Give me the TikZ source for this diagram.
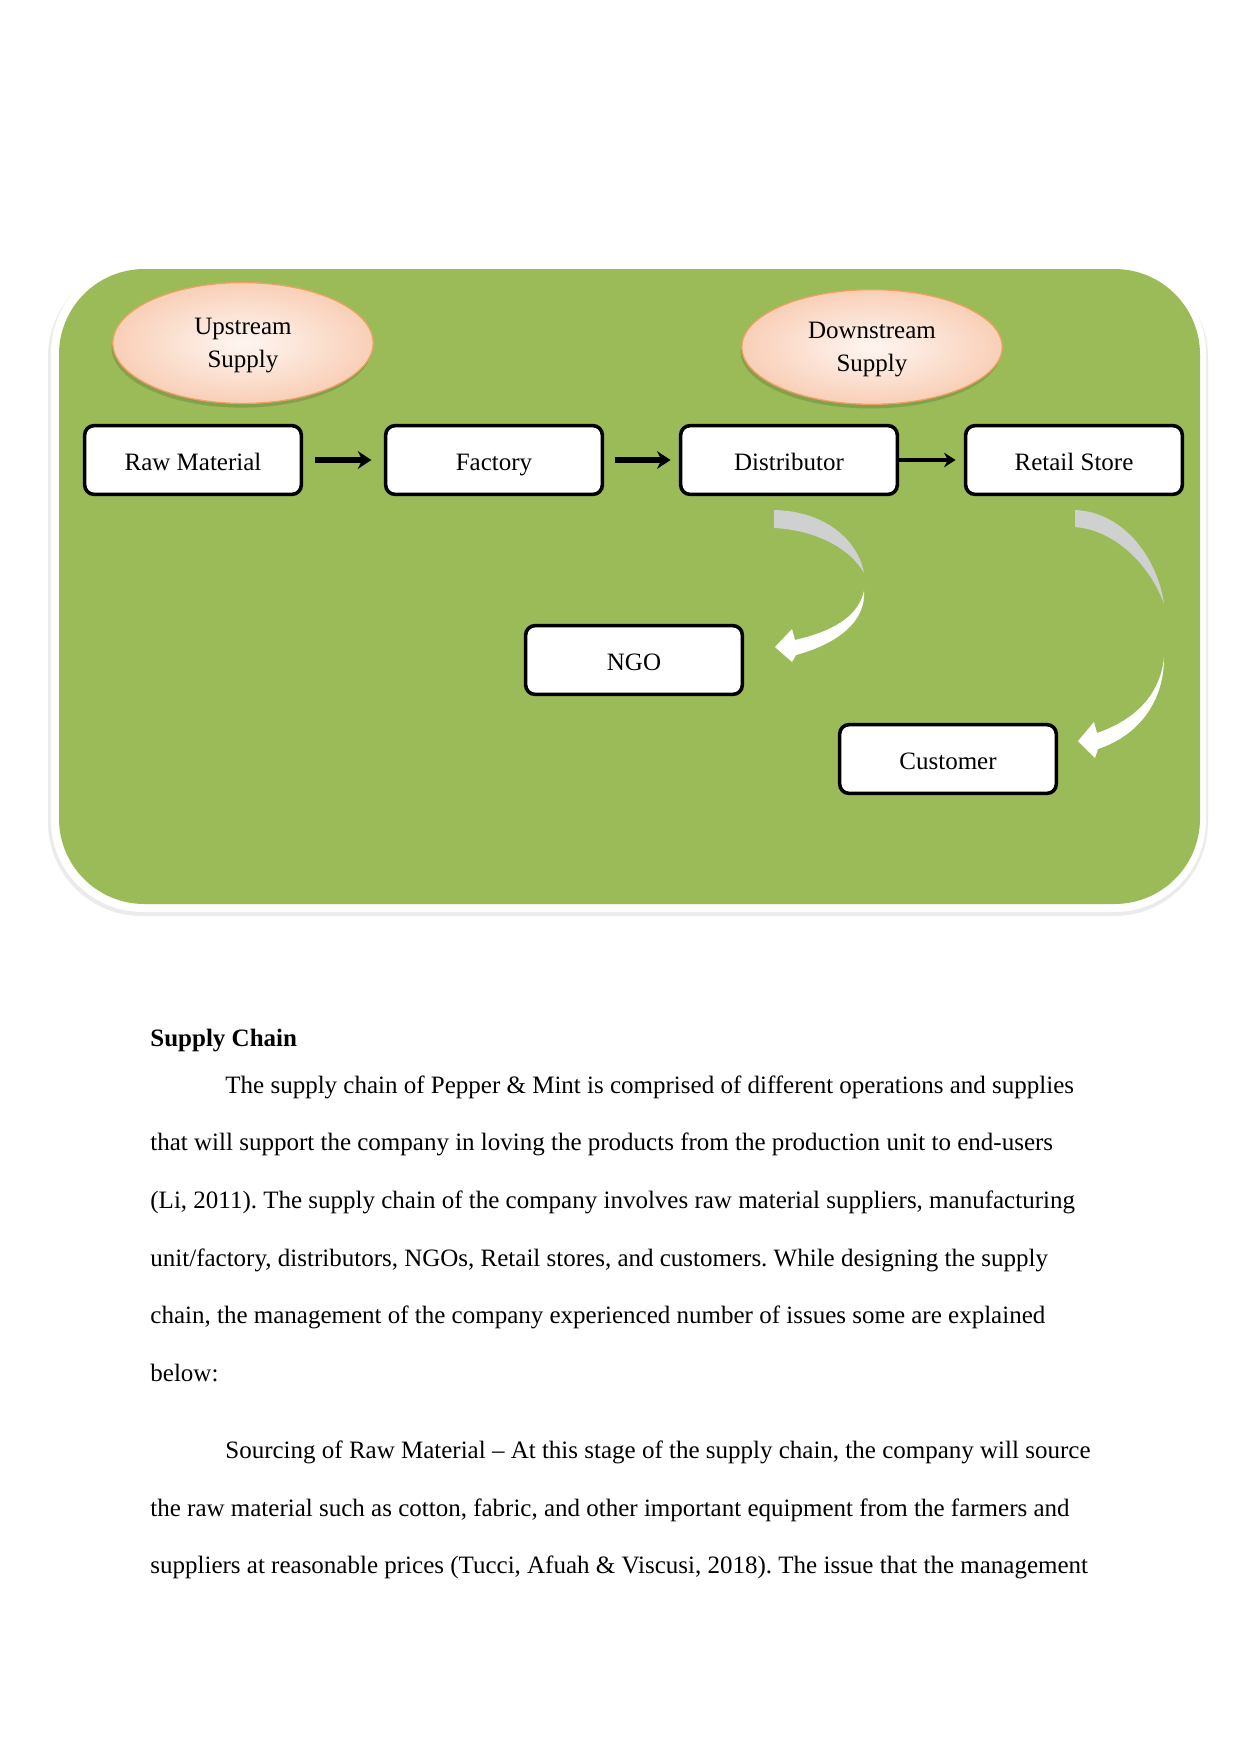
\documentclass[tikz,border=0pt]{standalone}
\usepackage{fontspec}
\setmainfont{Liberation Serif}
\usetikzlibrary{arrows.meta,positioning,shapes.geometric,shadows}
\definecolor{panel}{HTML}{9BBB59}
\definecolor{peach}{HTML}{F9CFB7}
\definecolor{peachlight}{HTML}{FEF6F2}
\definecolor{peachline}{HTML}{F0A060}
\definecolor{backarc}{HTML}{CFD1D0}
\frenchspacing

\begin{document}
\begin{tikzpicture}[x=0.48pt, y=-0.48pt, >=Stealth,
  stage/.style={draw=black, line width=1.7pt, fill=white, rounded corners=4.5pt, minimum width=104pt, minimum height=33pt, inner sep=0pt, text height=10pt, text depth=0.4pt, font=\fontsize{12pt}{14pt}\selectfont},
  tier/.style={ellipse, draw=peachline, line width=0.6pt, inner color=peachlight, outer color=peach, align=center, inner sep=0pt, minimum width=125pt, minimum height=58pt, text depth=0pt, font=\fontsize{12pt}{16pt}\selectfont, drop shadow={shadow xshift=-0.6pt, shadow yshift=-2pt, fill=black, opacity=0.14}},
  flow/.style={line width=2.6pt, -{Stealth[length=6.5pt,width=8.5pt]}},
  body/.style={anchor=base west, inner sep=0pt, font=\fontsize{12pt}{14pt}\selectfont}]
\useasboundingbox (0,0) rectangle (1241,1754);
% green panel with white rim
\fill[black!8, rounded corners=45pt] (48,263) rectangle (1208,916);
\fill[white, rounded corners=44pt] (51,261) rectangle (1206,912);
\fill[panel, rounded corners=41pt] (59,269) rectangle (1200,904);
% upstream / downstream labels
\node[tier] (up) at (243,343) {Upstream\\Supply};
\node[tier, minimum height=55pt] (down) at (872,347) {Downstream\\Supply};
% chain
\node[stage] (raw) at (193,460) {Raw Material};
\node[stage] (factory) at (494,460) {Factory};
\node[stage] (dist) at (789,460) {Distributor};
\node[stage] (retail) at (1074,460) {Retail Store};
\node[stage] (ngo) at (634,660) {NGO};
\node[stage] (cust) at (948,759) {Customer};
\draw[flow, shorten <=5.5pt, shorten >=6pt] (raw) -- (factory);
\draw[flow, shorten <=5pt, shorten >=4pt] (factory) -- (dist);
\draw[line width=1.8pt, -{Stealth[length=5.5pt,width=7pt]}, shorten >=4pt] (dist) -- (retail);
% curved arrow distributor -> NGO
\fill[backarc] (774,510) .. controls (825,511) and (858,540) .. (864,573) .. controls (850,548) and (815,530) .. (774,528) -- cycle;
\fill[white] (864,591) .. controls (866,620) and (840,643) .. (796,655) -- (792,662) -- (775,647) -- (792,629) -- (795,640) .. controls (830,632) and (858,618) .. (864,591) -- cycle;
% curved arrow retail store -> customer
\fill[backarc] (1075,510) .. controls (1125,512) and (1158,560) .. (1164,604) .. controls (1150,565) and (1115,530) .. (1075,527) -- cycle;
\fill[white] (1164,658) .. controls (1164,700) and (1140,735) .. (1098,749) -- (1095,758) -- (1078,741) -- (1094,722) -- (1097,733) .. controls (1135,720) and (1160,695) .. (1164,658) -- cycle;
% text below
\node[body, font=\bfseries\fontsize{12pt}{14pt}\selectfont] (heading) at (150,1046) {Supply Chain};
\node[body] (pa1) at (225,1093) {The supply chain of Pepper \& Mint is comprised of different operations and supplies};
\node[body] (pa2) at (150,1150) {that will support the company in loving the products from the production unit to end-users};
\node[body] (pa3) at (150,1208) {(Li, 2011). The supply chain of the company involves raw material suppliers, manufacturing};
\node[body] (pa4) at (150,1266) {unit/factory, distributors, NGOs, Retail stores, and customers. While designing the supply};
\node[body] (pa5) at (150,1323) {chain, the management of the company experienced number of issues some are explained};
\node[body] (pa6) at (150,1381) {below:};
\node[body] (pb1) at (225,1458) {Sourcing of Raw Material – At this stage of the supply chain, the company will source};
\node[body] (pb2) at (150,1516) {the raw material such as cotton, fabric, and other important equipment from the farmers and};
\node[body] (pb3) at (150,1573) {suppliers at reasonable prices (Tucci, Afuah \& Viscusi, 2018). The issue that the management};
\end{tikzpicture}
\end{document}
